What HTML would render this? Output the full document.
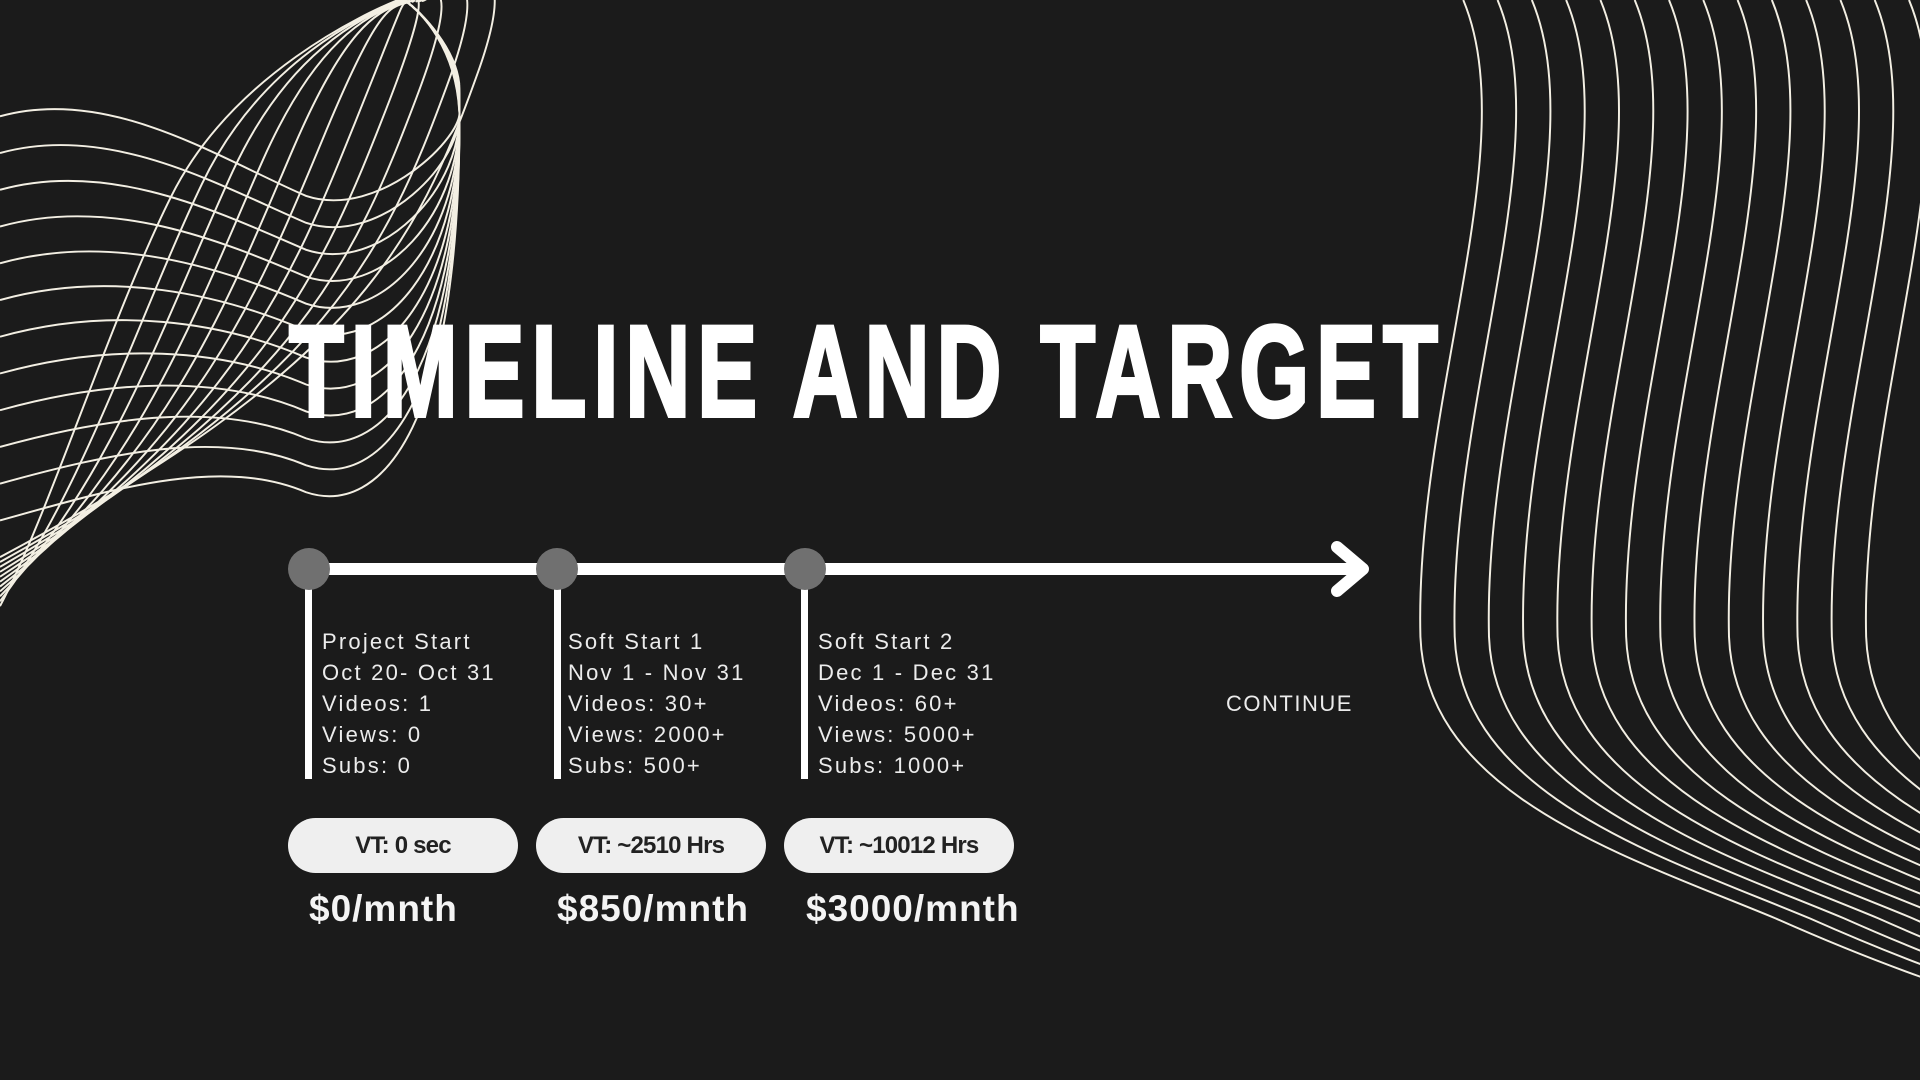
<!DOCTYPE html>
<html><head><meta charset="utf-8"><style>
html,body{margin:0;padding:0;background:#1b1b1b;}
#stage{position:relative;width:1920px;height:1080px;overflow:hidden;background:#1b1b1b;font-family:"Liberation Sans",sans-serif;}
.info{position:absolute;color:#ececec;font-size:22px;letter-spacing:2.2px;line-height:31px;}
.pill{position:absolute;top:818px;width:230px;height:55px;border-radius:28px;background:#efefef;color:#222;font-weight:bold;font-size:24px;letter-spacing:-0.8px;text-align:center;line-height:55px;}
.price{position:absolute;top:888px;color:#f4f4f4;font-weight:bold;font-size:37px;letter-spacing:1px;}
</style></head><body>
<div id="stage">
<svg width="1920" height="1080" style="position:absolute;left:0;top:0">
  <g id="deco" transform="scale(1.2245)"></g>
</svg>
<svg width="1920" height="1080" style="position:absolute;left:0;top:0">
  <g transform="translate(289,416) scale(0.69,1)">
  <text x="0" y="0" textLength="1665" lengthAdjust="spacing" font-family="'Liberation Sans',sans-serif" font-weight="bold" font-size="130" fill="#ffffff" stroke="#ffffff" stroke-width="4">TIMELINE AND TARGET</text>
  </g>
  <rect x="300" y="563" width="1060" height="12" fill="#ffffff"/>
  <polyline points="1337,547 1363,569 1337,591" fill="none" stroke="#fff" stroke-width="12" stroke-linecap="round" stroke-linejoin="round"/>
  <rect x="305" y="569" width="7" height="210" fill="#fff"/>
  <rect x="554" y="569" width="7" height="210" fill="#fff"/>
  <rect x="801" y="569" width="7" height="210" fill="#fff"/>
  <ellipse cx="309" cy="569" rx="21" ry="21" fill="#707070"/>
  <ellipse cx="557" cy="569" rx="21" ry="21" fill="#707070"/>
  <ellipse cx="805" cy="569" rx="21" ry="21" fill="#707070"/>
</svg>
<div class="info" style="left:322px;top:626px">Project Start<br>Oct 20- Oct 31<br>Videos: 1<br>Views: 0<br>Subs: 0</div>
<div class="info" style="left:568px;top:626px">Soft Start 1<br>Nov 1 - Nov 31<br>Videos: 30+<br>Views: 2000+<br>Subs: 500+</div>
<div class="info" style="left:818px;top:626px">Soft Start 2<br>Dec 1 - Dec 31<br>Videos: 60+<br>Views: 5000+<br>Subs: 1000+</div>
<div class="info" style="left:1226px;top:688px;letter-spacing:1.5px">CONTINUE</div>
<div class="pill" style="left:288px">VT: 0 sec</div>
<div class="pill" style="left:536px">VT: ~2510 Hrs</div>
<div class="pill" style="left:784px">VT: ~10012 Hrs</div>
<div class="price" style="left:309px">$0/mnth</div>
<div class="price" style="left:557px">$850/mnth</div>
<div class="price" style="left:806px">$3000/mnth</div>
</div>
<script>
const g=document.getElementById('deco');
function add(d){const p=document.createElementNS('http://www.w3.org/2000/svg','path');
p.setAttribute('d',d);p.setAttribute('fill','none');p.setAttribute('stroke','#f3efe3');p.setAttribute('stroke-width','1.6');


g.appendChild(p);}
for(let i=0;i<12;i++){const y0=95+i*30;const y1=150+i*22;
add(`M0,${y0} C90,${y0-25} 180,${y1-20} 250,${y1+10} C310,${y1+30} 380,${y1-40} 375,${90-i*2} C372,40 345,10 330,0`);}
for(let i=0;i<11;i++){const bx=100+i*25;
add(`M0,${495-i*4} C${bx-60},${420-i*12} ${bx-10},${260-i*6} ${bx+40},${160-i*10} S${300+i*4},10 ${325+i*2},0`);}
for(let i=0;i<14;i++){const o=i*28;
add(`M${1195+o},0 C${1245+o},120 ${1155+o},330 ${1160+o},520 C${1165+o},650 ${1330+o},700 ${1450+o},750 C${1540+o},790 ${1600+o},810 ${1700+o},840`);}
</script>
</body></html>
